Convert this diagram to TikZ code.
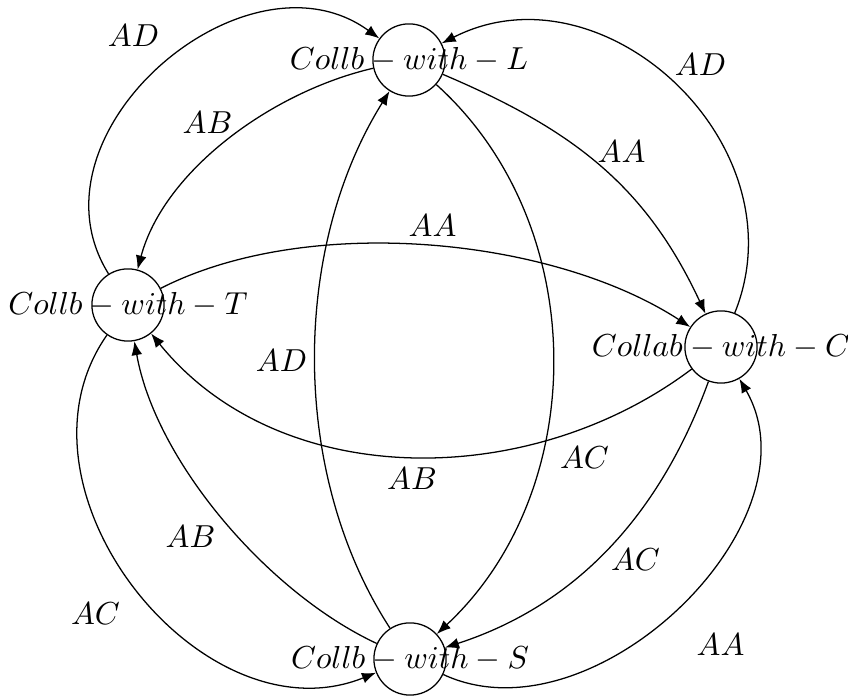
\documentclass[tikz,border=0pt]{standalone}
\usetikzlibrary{arrows.meta}
\begin{document}
\begin{tikzpicture}[x=0.3145pt,y=0.3145pt,
  state/.style={circle,draw,minimum size=22.7pt,inner sep=0pt},
  edge/.style={-{Latex[length=4.4pt,width=3.4pt]}},
  lbl/.style={inner sep=0pt}]
\useasboundingbox (0,0) rectangle (848,696);
\node[state,label=center:$Collb-with-L$] (L) at (409,636) {};
\node[state,label=center:$Collb-with-T$] (T) at (128,391) {};
\node[state,label=center:$Collab-with-C$] (C) at (721,349) {};
\node[state,label=center:$Collb-with-S$] (S) at (410,37) {};
% edges
\draw[edge] (L) to[out=193,in=75,distance=32.4pt] (T);
\draw[edge] (T) to[out=122,in=144,distance=52pt] (L);
\draw[edge] (C) to[out=68,in=27,distance=57pt] (L);
\draw[edge] (L) to[out=337,in=115,distance=44.5pt] (C);
\draw[edge] (T) to[out=27,in=147,distance=52pt] (C);
\draw[edge] (C) to[out=217,in=309,distance=64pt] (T);
\draw[edge] (S) to[out=123,in=238,distance=58.1pt] (L);
\draw[edge] (L) to[out=318,in=43,distance=66pt] (S);
\draw[edge] (C) to[out=250,in=18,distance=44pt] (S);
\draw[edge] (S) to[out=335,in=300,distance=52pt] (C);
\draw[edge] (S) to[out=155,in=280,distance=38.1pt] (T);
\draw[edge] (T) to[out=235,in=202,distance=59pt] (S);
% edge labels
\node[lbl] (l1) at (133.5,660) {$AD$};
\node[lbl] (l2) at (207.5,573.5) {$AB$};
\node[lbl] (l3) at (700.5,631) {$AD$};
\node[lbl] (l4) at (621.5,544.5) {$AA$};
\node[lbl] (l5) at (432.5,470) {$AA$};
\node[lbl] (l6) at (281.5,335) {$AD$};
\node[lbl] (l7) at (412,217.5) {$AB$};
\node[lbl] (l8) at (584.5,238.5) {$AC$};
\node[lbl] (l9) at (635.5,136) {$AC$};
\node[lbl] (l10) at (720.5,51) {$AA$};
\node[lbl] (l11) at (190.5,159.5) {$AB$};
\node[lbl] (l12) at (95.5,82.5) {$AC$};
\end{tikzpicture}
\end{document}
